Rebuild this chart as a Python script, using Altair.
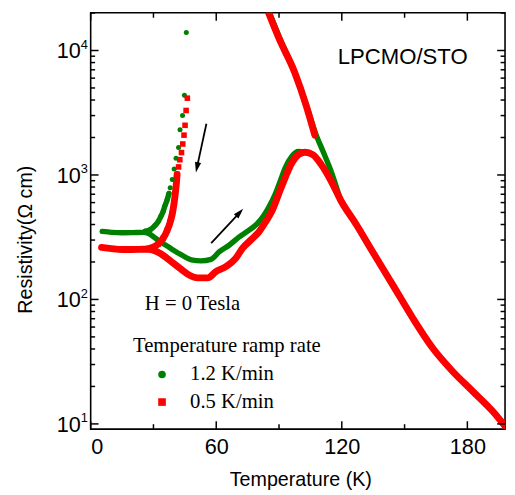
import math
import altair as alt
import pandas as pd

# ---------------- data ----------------
# 1.2 K/min (green): low-T plateau + warming branch + high-T tail
g_warm_T = [5.5, 10, 15, 20, 25, 27.7, 31, 34, 37.1, 40, 43.4, 48.1, 52.8, 57.5, 61.5, 66.3, 71.0,
            75.7, 79.6, 82.7, 85.1, 88.2, 90.6, 92.9, 96.1, 99.2, 102.4, 106.3, 110.2, 114.9,
            119.6, 127, 133.7, 144.7, 154.1, 163.5, 172.9, 182.4, 191.8, 198]
g_warm_R = [352, 346, 343, 344, 346, 339, 310, 285, 265, 246, 228, 208, 204, 210, 242, 274, 318,
            360, 406, 472, 549, 701, 894, 1138, 1409, 1543, 1530, 1452, 1211, 894,
            621, 398, 258, 128, 70, 40.5, 26.5, 18.4, 12.8, 9.6]
# green cooling branch from high T (goes off the top)
g_cool_T = [85.5, 90, 97.6, 103, 107.5, 111, 114.9, 119.0]
g_cool_R = [20085, 13000, 6600, 3700, 2150, 1550, 1070, 660]
# green steep cooling branch at low T (dots)
g_steep_T = [45.7, 44.8, 43.9, 42.7, 42.0, 40.8, 39.9, 39.0, 38.0, 37.4, 36.5, 35.5, 34.6, 33.6,
             32.4, 30.8, 28.5, 26.1]
g_steep_R = [13960, 4360, 3000, 2310, 1660, 1365, 1117, 920, 790, 710, 628, 567, 508, 467,
             426, 394, 364, 353]

# 0.5 K/min (red)
r_warm_T = [5.2, 10, 15, 20, 25.3, 27.7, 31.6, 35.5, 39.4, 43.4, 46.5, 51.2, 55.9, 60.0, 64.7, 69.4,
            72.6, 76.5, 80.4, 83.5, 86.7, 89.8, 92.9, 96.1, 99.2, 102.4, 106.3, 110.2, 114.9,
            119.6, 127, 133.7, 144.7, 154.1, 163.5, 172.9, 182.4, 191.8, 198]
r_warm_R = [262, 256, 252, 252, 253, 253, 242, 221, 196, 174, 159, 149, 149, 168, 184, 215,
            258, 300, 349, 418, 517, 701, 948, 1247, 1452, 1523, 1452, 1211, 894,
            621, 398, 258, 128, 70, 40.5, 26.5, 18.4, 12.8, 9.6]
r_cool_T = [85.0, 90, 97.6, 103, 107.1]
r_cool_R = [20085, 12500, 6600, 3600, 2090]
r_steep_T = [46.2, 45.6, 45.1, 44.6, 44.0, 43.4, 42.6, 42.0, 41.3, 40.9, 40.4, 39.8, 39.0, 38.0,
             36.6, 34.6, 32.3, 29.3, 27.0]
r_steep_R = [4140, 3297, 2507, 2089, 1774, 1514, 1326, 1160, 1009, 841, 702, 585, 488, 418,
             360, 309, 279, 261, 255]

rates = ["1.2 K/min", "0.5 K/min"]
colors = ["#008000", "#ff0000"]

x_major = [0, 60, 120, 180]
x_minor = [30, 90, 150]
y_major = [10, 100, 1000, 10000]
y_exp = ["1", "2", "3", "4"]
y_minor = [m * d for d in (10, 100, 1000) for m in range(2, 10)] + [20000]

# arrows (data coordinates): start and head position
arrow_T = [55.3, 50.8]
arrow_R = [2580, 1151]
arrow2_T = [57.6, 71.2]
arrow2_R = [283, 499]

# ---------------- tables ----------------
def branch(T, R, rate, name):
    return pd.DataFrame({"T": T, "R": R, "rate": rate, "branch": name})

g_lines = pd.concat([branch(g_warm_T, g_warm_R, rates[0], "w"),
                     branch(g_cool_T, g_cool_R, rates[0], "c"),
                     branch(g_steep_T[9:], g_steep_R[9:], rates[0], "s")])
r_lines = pd.concat([branch(r_warm_T, r_warm_R, rates[1], "w"),
                     branch(r_cool_T, r_cool_R, rates[1], "c"),
                     branch(r_steep_T[8:], r_steep_R[8:], rates[1], "s")])
g_pts = branch(g_steep_T, g_steep_R, rates[0], "s")
r_pts = branch(r_steep_T, r_steep_R, rates[1], "s")

W, H = 421, 423
XMIN, XMAX = 0, 198
YMIN, YMAX = 9.08, 20085
xs = alt.Scale(domain=[XMIN, XMAX], nice=False, zero=False)
ys = alt.Scale(type="log", domain=[YMIN, YMAX], nice=False)
PX_PER_K = W / (XMAX - XMIN)
PX_PER_DEC = H / (math.log10(YMAX) - math.log10(YMIN))

FONT_S = "Liberation Sans"
FONT_R = "Liberation Serif"

base_x = alt.X("T:Q", scale=xs, axis=alt.Axis(
    title="Temperature (K)", values=x_major, ticks=False, domain=False, grid=False,
    labelFont=FONT_S, labelFontSize=22, labelColor="black", labelPadding=8,
    titleFont=FONT_S, titleFontSize=20, titleFontWeight="normal", titleColor="black",
    titleBaseline="alphabetic", titleY=57, titleX=213))
base_y = alt.Y("R:Q", scale=ys, axis=alt.Axis(
    title="Resistivity(Ω cm)", labels=False, ticks=False, domain=False, grid=False,
    titleFont=FONT_S, titleFontSize=20, titleFontWeight="normal", titleColor="black",
    titleAngle=270, titleBaseline="alphabetic", titleX=-60, titleY=230))

color_enc = alt.Color("rate:N", scale=alt.Scale(domain=rates, range=colors),
                      legend=alt.Legend(title="Temperature ramp rate"))
shape_enc = alt.Shape("rate:N", scale=alt.Scale(domain=rates, range=["circle", "square"]),
                      legend=alt.Legend(title="Temperature ramp rate"))

green_line = alt.Chart(g_lines).mark_line(color=colors[0], strokeWidth=5.5, strokeCap="round",
                                          strokeJoin="round", clip=True,
                                          interpolate="monotone").encode(
    x=base_x, y=base_y, detail="branch:N", order="T:Q")
red_line = alt.Chart(r_lines).mark_line(color=colors[1], strokeWidth=7, strokeCap="round",
                                        strokeJoin="round", clip=True,
                                        interpolate="monotone").encode(
    x=base_x, y=base_y, detail="branch:N", order="T:Q")
green_pts = alt.Chart(g_pts).mark_point(filled=True, size=26, opacity=1).encode(
    x=base_x, y=base_y, color=color_enc, shape=shape_enc)
red_pts = alt.Chart(r_pts).mark_point(filled=True, size=32, opacity=1).encode(
    x=base_x, y=base_y, color=color_enc, shape=shape_enc)

# inward tick marks: one table, each row is a short segment through the scales
rows = []
fx = lambda L: 10 ** (L / PX_PER_DEC)
for vals, L in ((x_major, 8), (x_minor, 5)):
    for v in vals:
        rows.append({"xa": v, "xb": v, "ya": YMIN, "yb": YMIN * fx(L)})
        rows.append({"xa": v, "xb": v, "ya": YMAX / fx(L), "yb": YMAX})
for vals, L in ((y_major, 8), (y_minor, 4.5)):
    for v in vals:
        d = L / PX_PER_K
        rows.append({"xa": XMIN, "xb": XMIN + d, "ya": v, "yb": v})
        rows.append({"xa": XMAX - d, "xb": XMAX, "ya": v, "yb": v})
tick_df = pd.DataFrame(rows)
ticks = alt.Chart(tick_df).mark_rule(color="black", strokeWidth=1.5).encode(
    x=alt.X("xa:Q", scale=xs), x2="xb:Q", y=alt.Y("ya:Q", scale=ys), y2="yb:Q")

ylab_df = pd.DataFrame({"v": y_major, "e": y_exp, "b": ["10"] * 4})
ylab10 = alt.Chart(ylab_df).mark_text(font=FONT_S, fontSize=22, align="right", baseline="alphabetic",
                                      dy=8, color="black").encode(
    y=alt.Y("v:Q", scale=ys), x=alt.value(-10), text="b:N")
ylabe = alt.Chart(ylab_df).mark_text(font=FONT_S, fontSize=13, align="left", baseline="alphabetic",
                                     dy=-1.5, color="black").encode(
    y=alt.Y("v:Q", scale=ys), x=alt.value(-10), text="e:N")

# arrows
def arrow(Ts, Rs, ang):
    df = pd.DataFrame({"T": [Ts[0]], "R": [Rs[0]], "T2": [Ts[1]], "R2": [Rs[1]]})
    line = alt.Chart(df).mark_rule(color="black", strokeWidth=1.8).encode(
        x=alt.X("T:Q", scale=xs), y=alt.Y("R:Q", scale=ys), x2="T2:Q", y2="R2:Q")
    head = alt.Chart(df).mark_point(shape="M0,-1L0.6,1L-0.6,1Z", filled=True, size=110,
                                    color="black", opacity=1, angle=ang).encode(
        x=alt.X("T2:Q", scale=xs), y=alt.Y("R2:Q", scale=ys))
    return [line, head]

arrows = arrow(arrow_T, arrow_R, 192) + arrow(arrow2_T, arrow2_R, 43)

txt_df = pd.DataFrame({"a": [0]})
t_field = alt.Chart(txt_df).mark_text(text="H = 0 Tesla", font=FONT_R, fontSize=21, align="left",
                                      baseline="alphabetic", color="black").encode(
    x=alt.value(55), y=alt.value(302))
t_sample = alt.Chart(txt_df).mark_text(text="LPCMO/STO", font=FONT_S, fontSize=22.5, align="left",
                                       baseline="alphabetic", color="black").encode(
    x=alt.value(251), y=alt.value(52))

chart = alt.layer(green_line, red_line, green_pts, red_pts, *arrows,
                  ylab10, ylabe, t_field, t_sample, ticks).properties(
    width=W, height=H, autosize="none",
    padding={"left": 84, "top": 1, "right": 2, "bottom": 60},
).configure_view(stroke="black", strokeWidth=1.6).configure_legend(
    orient="none", legendX=43, legendY=328, padding=0,
    titleFont=FONT_R, titleFontSize=21, titleFontWeight="normal", titleColor="black",
    titlePadding=8, titleLimit=400,
    labelFont=FONT_R, labelFontSize=21, labelColor="black", labelLimit=300,
    symbolSize=60, symbolOffset=19, labelOffset=18, rowPadding=6, symbolStrokeWidth=0,
)

chart.save("out.html", embed_options={"renderer": "svg", "actions": False})
